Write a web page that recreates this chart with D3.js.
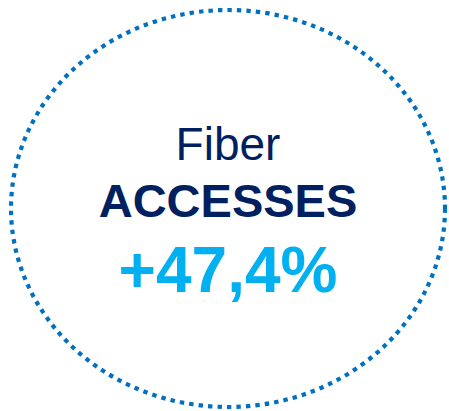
<!DOCTYPE html>
<html><head><meta charset="utf-8">
<script src="https://cdn.jsdelivr.net/npm/d3@7"></script>
<style>html,body{margin:0;padding:0;background:#fff;overflow:hidden}</style>
</head><body>
<script>
const labels = ["Fiber", "ACCESSES"];
const values = ["+47,4%"];

const W = 449, H = 411;
const svg = d3.select("body").append("svg").attr("width", W).attr("height", H);

svg.append("ellipse")
  .attr("cx", 228).attr("cy", 208.5).attr("rx", 217).attr("ry", 198.5)
  .attr("fill", "none").attr("stroke", "#0070c0")
  .attr("stroke-width", 4.2).attr("stroke-dasharray", "4.4 5.1");

const font = "'Liberation Sans', Arial, sans-serif";
const styles = [
  {y: 160, size: 46, weight: "normal", color: "#002060"},
  {y: 217, size: 47, weight: "bold", color: "#002060"},
  {y: 292, size: 64, weight: "bold", color: "#00b0f0"}
];
const texts = labels.concat(values);
svg.selectAll("text.t").data(texts).join("text")
  .attr("class", "t")
  .attr("x", 228)
  .attr("y", (d, i) => styles[i].y)
  .attr("text-anchor", "middle")
  .attr("font-family", font)
  .attr("font-size", (d, i) => styles[i].size)
  .attr("font-weight", (d, i) => styles[i].weight)
  .attr("fill", (d, i) => styles[i].color)
  .text(d => d);
</script>
</body></html>
